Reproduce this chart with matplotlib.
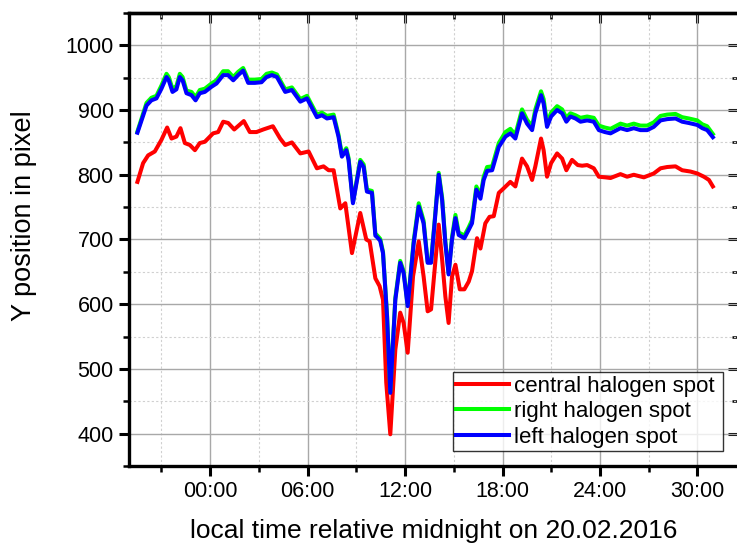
import matplotlib
matplotlib.use('Agg')
import matplotlib.pyplot as plt
from matplotlib.ticker import MultipleLocator, FixedLocator, NullFormatter

plt.rcParams['font.family'] = ['Liberation Sans', 'DejaVu Sans']

# hours relative to midnight, Y position in pixel
t_central = [-4.48, -4.13, -3.82, -3.41, -3.0, -2.65, -2.38, -2.08, -1.83, -1.56, -1.25, -0.94, -0.64, -0.33,
             0.18, 0.49, 0.8, 1.11, 1.48, 2.07, 2.44, 2.85, 3.27, 3.86, 4.31, 4.62, 5.03, 5.55, 6.06, 6.57,
             6.98, 7.29, 7.6, 8.01, 8.32, 8.73, 9.24, 9.61, 9.82, 10.17, 10.43, 10.64, 10.84, 11.09, 11.4,
             11.7, 11.91, 12.16, 12.49, 12.84, 13.14, 13.39, 13.6, 13.8, 14.07, 14.28, 14.48, 14.68, 14.89,
             15.1, 15.37, 15.65, 15.92, 16.12, 16.43, 16.64, 16.94, 17.2, 17.46, 17.77, 18.07, 18.48, 18.79,
             19.2, 19.51, 19.82, 20.02, 20.37, 20.53, 20.74, 20.99, 21.36, 21.67, 21.93, 22.28, 22.63, 22.9,
             23.21, 23.62, 23.93, 24.34, 24.65, 25.26, 25.67, 26.08, 26.7, 27.31, 27.73, 28.14, 28.65, 29.06,
             29.57, 29.99, 30.4, 30.71, 30.95]
central = [789, 818, 830, 836, 854, 873, 856, 859, 872, 849, 846, 838, 849, 851,
           864, 866, 882, 880, 870, 883, 866, 866, 870, 875, 856, 846, 850, 833, 836, 810,
           813, 807, 807, 748, 756, 679, 741, 700, 697, 640, 628, 607, 479, 399, 530,
           587, 571, 525, 643, 697, 643, 589, 592, 648, 723, 669, 612, 571, 643,
           661, 623, 623, 635, 651, 702, 686, 725, 735, 736, 772, 779, 789, 782,
           825, 813, 792, 813, 856, 838, 797, 818, 833, 825, 807, 823, 815, 814,
           815, 810, 797, 796, 795, 801, 797, 800, 796, 802, 810, 812, 813, 807,
           805, 802, 797, 792, 782]

t_side = [-4.48, -3.92, -3.62, -3.31, -3.0, -2.69, -2.55, -2.32, -2.08, -1.87, -1.7, -1.46, -1.15, -0.9,
          -0.64, -0.33, 0.08, 0.39, 0.8, 1.1, 1.42, 1.72, 2.03, 2.34, 2.75, 3.16, 3.47, 3.8, 4.11, 4.62,
          5.03, 5.55, 5.96, 6.57, 6.88, 7.19, 7.6, 7.9, 8.11, 8.38, 8.52, 8.79, 9.24, 9.45, 9.65, 9.96,
          10.17, 10.3, 10.47, 10.64, 10.89, 11.09, 11.4, 11.7, 11.91, 12.16, 12.53, 12.84, 13.14, 13.39,
          13.6, 13.8, 14.07, 14.28, 14.48, 14.68, 14.89, 15.1, 15.3, 15.65, 15.92, 16.12, 16.39, 16.64,
          16.84, 17.05, 17.36, 17.77, 18.18, 18.48, 18.79, 19.2, 19.51, 19.82, 20.02, 20.37, 20.53, 20.74,
          20.99, 21.36, 21.67, 21.93, 22.18, 22.49, 22.8, 23.21, 23.62, 23.93, 24.3, 24.65, 25.26, 25.67,
          26.08, 26.49, 26.91, 27.31, 27.73, 28.14, 28.65, 29.06, 29.47, 29.99, 30.3, 30.6, 30.95]
right = [867, 911, 919, 922, 938, 956, 951, 933, 937, 956, 951, 930, 928, 920,
         931, 933, 941, 946, 960, 960, 951, 959, 965, 947, 947, 948, 956, 958, 955, 932,
         935, 917, 922, 893, 896, 891, 893, 862, 831, 841, 826, 758, 823, 816, 777, 775,
         709, 706, 701, 681, 583, 465, 610, 667, 651, 599, 698, 756, 729, 666,
         666, 723, 803, 765, 697, 648, 704, 738, 711, 706, 719, 730, 782, 768,
         797, 812, 813, 849, 866, 871, 862, 901, 885, 875, 901, 929, 917, 880,
         896, 906, 901, 888, 895, 892, 888, 890, 888, 876, 873, 871, 879, 876,
         879, 876, 876, 881, 891, 893, 894, 889, 887, 884, 878, 875, 863]
left = [865, 907, 915, 918, 933, 951, 946, 928, 932, 951, 946, 926, 923, 915,
        926, 928, 936, 941, 954, 954, 946, 954, 961, 942, 942, 943, 951, 954, 951, 928,
        931, 913, 918, 889, 892, 887, 889, 859, 828, 838, 823, 756, 820, 812, 774, 772,
        706, 703, 698, 679, 581, 463, 607, 664, 648, 597, 694, 751, 725, 664,
        664, 720, 800, 761, 694, 646, 700, 733, 707, 702, 715, 725, 777, 763,
        792, 806, 807, 843, 859, 864, 856, 895, 879, 869, 895, 923, 910, 874,
        890, 900, 895, 882, 890, 887, 882, 884, 882, 869, 866, 864, 872, 869,
        872, 869, 869, 874, 884, 886, 887, 882, 880, 877, 872, 869, 858]

xtick_pos = [0, 6, 12, 18, 24, 30]
xtick_labels = ['00:00', '06:00', '12:00', '18:00', '24:00', '30:00']

fig = plt.figure(figsize=(7.37, 5.43), dpi=100)
ax = fig.add_axes([0.175, 0.1418, 0.8264, 0.8343])

ax.plot(t_central, central, color='#ff0000', lw=2.9, label='central halogen spot', solid_joinstyle='round', zorder=3)
ax.plot(t_side, right, color='#00ff00', lw=2.9, label='right halogen spot', solid_joinstyle='round', zorder=3)
ax.plot(t_side, left, color='#0000ff', lw=2.9, label='left halogen spot', solid_joinstyle='round', zorder=3)

ax.set_xlim(-5, 32.5)
ax.set_ylim(350, 1050)
ax.xaxis.set_major_locator(FixedLocator(xtick_pos))
ax.set_xticklabels(xtick_labels)
ax.xaxis.set_minor_locator(MultipleLocator(3))
ax.yaxis.set_major_locator(MultipleLocator(100))
ax.yaxis.set_minor_locator(MultipleLocator(50))

ax.grid(which='major', color='#a8a8a8', lw=1.0, ls='-')
ax.grid(which='minor', color='#d0d0d0', lw=0.8, ls=(0, (2, 2)))
ax.set_axisbelow(True)

for s in ax.spines.values():
    s.set_linewidth(2.4)

ax.tick_params(which='major', direction='out', length=7, width=2.2, labelsize=15.5, pad=4)
ax.tick_params(which='minor', direction='out', length=4, width=1.8)

# mirrored ticks on top and right, pointing inwards
top = ax.secondary_xaxis('top')
top.xaxis.set_major_locator(FixedLocator(xtick_pos))
top.xaxis.set_minor_locator(MultipleLocator(3))
top.xaxis.set_major_formatter(NullFormatter())
top.tick_params(which='major', direction='in', length=7, width=2.2)
top.tick_params(which='minor', direction='in', length=4, width=1.8)
top.spines['top'].set_linewidth(2.4)

rgt = ax.secondary_yaxis('right')
rgt.yaxis.set_major_locator(MultipleLocator(100))
rgt.yaxis.set_minor_locator(MultipleLocator(50))
rgt.yaxis.set_major_formatter(NullFormatter())
rgt.tick_params(which='major', direction='in', length=7, width=2.2)
rgt.tick_params(which='minor', direction='in', length=4, width=1.8)

ax.set_xlabel('local time relative midnight on 20.02.2016', fontsize=19, labelpad=12)
ax.set_ylabel('Y position in pixel', fontsize=19.5)
ax.yaxis.set_label_coords(-0.151, 0.552)

leg = ax.legend(loc='lower left', bbox_to_anchor=(0.532, 0.033, 0.443, 0.183), mode='expand',
                fontsize=16, frameon=True, fancybox=False, borderaxespad=0, handlelength=2.35,
                handletextpad=0.25, labelspacing=0.2, borderpad=0.15, handleheight=0.7)
leg.get_frame().set_edgecolor('black')
leg.get_frame().set_linewidth(1.0)
for line in leg.get_lines():
    line.set_linewidth(2.9)

fig.savefig('out.png', dpi=100)
